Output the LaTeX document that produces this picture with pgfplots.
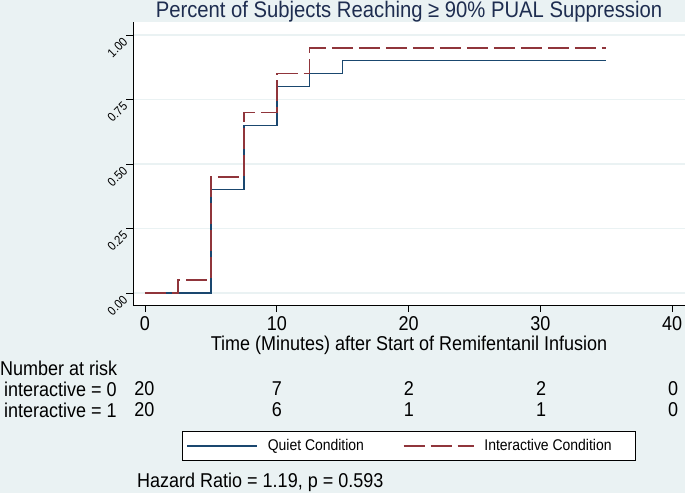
\documentclass[border=0pt]{standalone}
\usepackage{pgfplots}
\pgfplotsset{compat=1.18}
\usepackage{fontspec}
\setmainfont[FakeStretch=0.9]{Liberation Sans}
\definecolor{bgc}{RGB}{234,242,243}
\definecolor{navyc}{RGB}{26,71,111}
\definecolor{maroonc}{RGB}{144,53,59}
\definecolor{titlec}{RGB}{30,45,80}
\begin{document}
\begin{tikzpicture}
\useasboundingbox (0,0) rectangle (685pt,493pt);
\fill[bgc] (0,0) rectangle (685pt,493pt);
\begin{axis}[
  at={(133pt,188pt)}, anchor=south west,
  scale only axis, width=552pt, height=283pt,
  xmin=-0.91, xmax=40.97, ymin=-0.0465, ymax=1.05,
  axis background/.style={fill=white},
  axis x line*=bottom, axis y line*=left,
  axis line style={-, black, line width=0.8pt},
  xtick={0,10,20,30,40}, ytick={0,0.25,0.5,0.75,1},
  tick align=outside, major tick length=7pt,
  tick style={black, line width=0.8pt},
  /pgf/number format/assume math mode=true,
  xticklabel style={font=\fontsize{20}{24}\selectfont, yshift=-1pt},
  yticklabel style={font=\fontsize{12.5}{14}\selectfont, yshift=-4pt, rotate=45, anchor=east, inner sep=1pt,
    /pgf/number format/fixed, /pgf/number format/fixed zerofill, /pgf/number format/precision=2},
  ymajorgrids, major grid style={color=bgc, line width=1.2pt},
  xlabel={Time (Minutes) after Start of Remifentanil Infusion},
  xlabel style={font=\fontsize{20}{24}\selectfont, at={(axis description cs:0.5,-0.141)}, anchor=center},
  legend columns=2,
  legend cell align=left,
  legend image code/.code={\draw[#1] (0pt,0pt) -- (70pt,0pt);},
  legend style={at={(axis description cs:0.5,-0.498)}, anchor=center, draw=black, line width=0.8pt, fill=white,
    font=\fontsize{15.5}{18}\selectfont, inner xsep=4pt, inner ysep=6pt,
    /tikz/every odd column/.append style={column sep=8pt},
    /tikz/every even column/.append style={column sep=37pt}},
  clip=false,
]
\addplot[const plot mark left, navyc, line width=1.4pt, no marks] coordinates {
  (0,0) (5,0.40) (7.5,0.65) (10,0.80) (12.5,0.85) (15,0.90) (35,0.90)};
\addlegendentry{Quiet Condition}
\addplot[const plot mark left, maroonc, line width=1.4pt, no marks, dash pattern=on 21pt off 6pt] coordinates {
  (0,0) (2.5,0.05) (5,0.45) (7.5,0.70) (10,0.85) (12.5,0.95) (35,0.95)};
\addlegendentry{Interactive Condition\kern18pt\mbox{}}
\end{axis}
\node[font=\fontsize{22.5}{26}\selectfont, text=titlec, inner sep=0pt] at (409pt,481pt) {Percent of Subjects Reaching ≥ 90\% PUAL Suppression};
\begin{scope}[every node/.style={font=\fontsize{20}{24}\selectfont, inner sep=0pt}]
\node[anchor=west] at (0pt,125pt) {Number at risk};
\node[anchor=west] at (4pt,104pt) {interactive = 0};
\node[anchor=west] at (4pt,83pt) {interactive = 1};
\node at (144.5pt,104pt) {20};
\node at (277pt,104pt) {7};
\node at (409pt,104pt) {2};
\node at (541pt,104pt) {2};
\node at (673pt,104pt) {0};
\node at (144.5pt,83pt) {20};
\node at (277pt,83pt) {6};
\node at (409pt,83pt) {1};
\node at (541pt,83pt) {1};
\node at (673pt,83pt) {0};
\node[anchor=west] at (137pt,11pt) {Hazard Ratio = 1.19, p = 0.593};
\end{scope}
\end{tikzpicture}
\end{document}
